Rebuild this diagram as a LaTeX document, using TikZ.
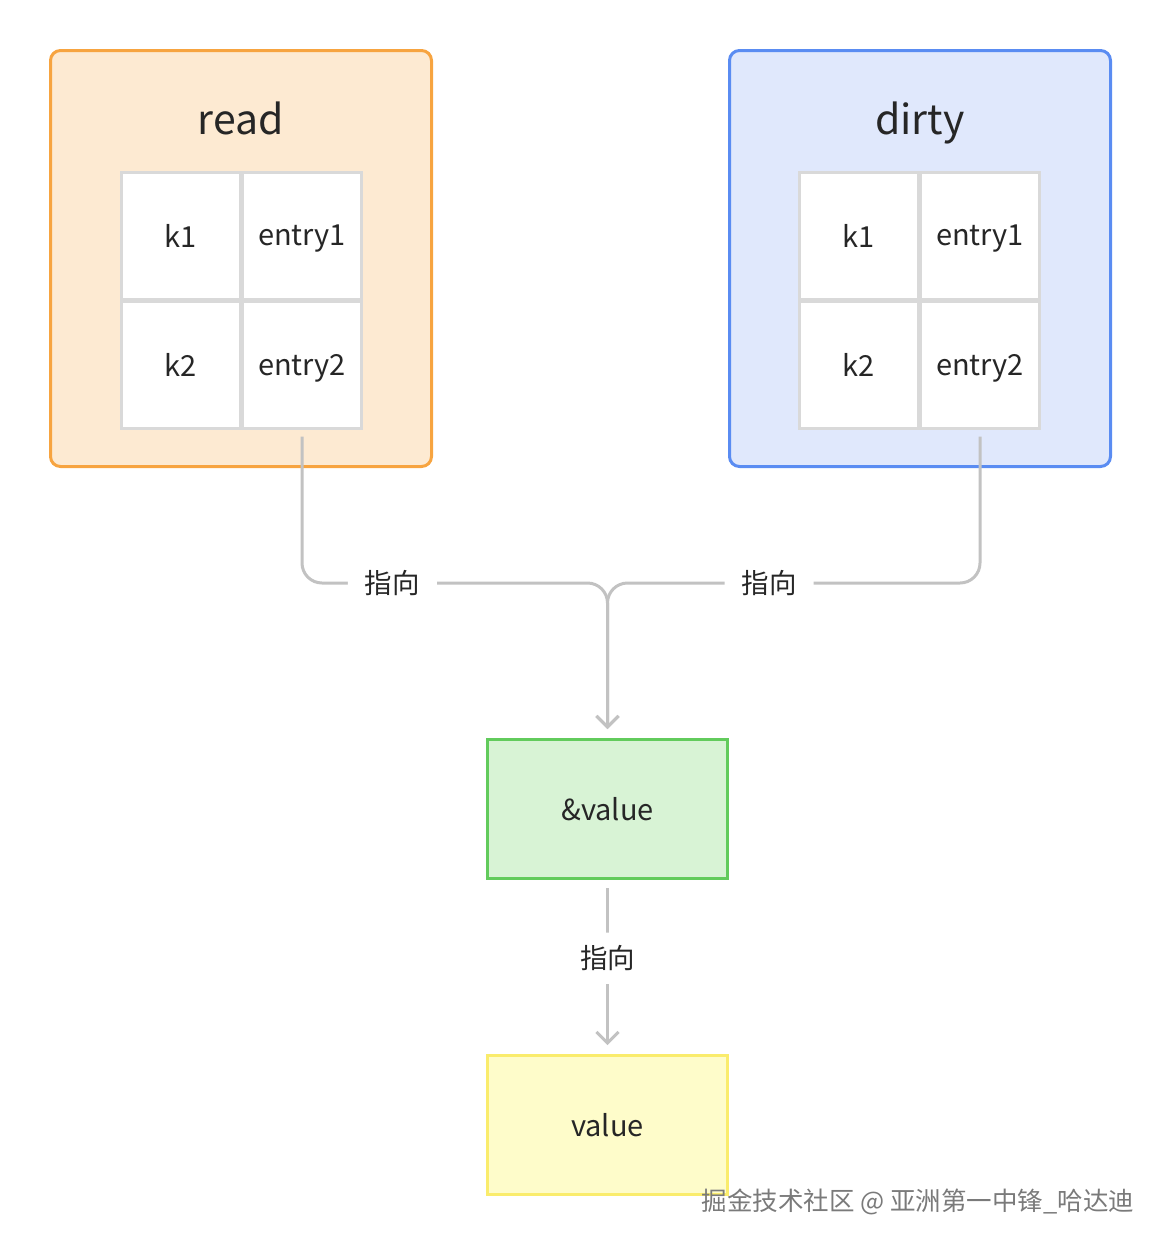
\documentclass[tikz,border=0pt]{standalone}
\usepackage{fontspec}
\setmainfont{Noto Sans CJK SC}
\usepackage{tikz}
\usetikzlibrary{arrows.meta,positioning}

\definecolor{txt}{HTML}{262626}
\definecolor{readline}{HTML}{F7A440}
\definecolor{readfill}{HTML}{FDEAD2}
\definecolor{dirtyline}{HTML}{5A8CF2}
\definecolor{dirtyfill}{HTML}{E0E8FC}
\definecolor{refline}{HTML}{62CB5C}
\definecolor{reffill}{HTML}{D8F3D5}
\definecolor{valline}{HTML}{FAEC6C}
\definecolor{valfill}{HTML}{FEFCCA}
\definecolor{cellgray}{HTML}{D9D9D9}
\definecolor{linegray}{HTML}{C2C2C2}
\definecolor{markgray}{HTML}{7A7A7A}

\begin{document}
\begin{tikzpicture}[x=1pt,y=-1pt,>={Straight Barb[length=11pt,width=22pt,line width=3pt]},
  line width=3pt,text=txt,
  box node/.style={rectangle,rounded corners=10pt,minimum width=381pt,minimum height=416pt},
  title node/.style={anchor=base,font=\fontsize{41}{48}\selectfont},
  cell node/.style={rectangle,draw=cellgray,fill=white,minimum width=119pt,minimum height=127pt,
    text depth=0pt,font=\fontsize{29}{34}\selectfont},
  item node/.style={rectangle,minimum width=240pt,minimum height=139pt,font=\fontsize{29}{34}\selectfont},
  lbl node/.style={fill=white,inner xsep=17pt,inner ysep=13pt,font=\fontsize{27.5}{32}\selectfont},
  conn/.style={->,draw=linegray,rounded corners=20pt,shorten <=9pt,shorten >=9pt}]
  \useasboundingbox (0,0) rectangle (1162,1248);

  % read map
  \node[box node,draw=readline,fill=readfill] (read) at (241,258.5) {};
  \node[title node] (readt) at (241,134) {read};
  \node[cell node] (r11) at (181,235.5) {k1};
  \node[cell node] (r12) [right=-1pt of r11] {entry1};
  \node[cell node] (r21) [below=-1pt of r11] {k2};
  \node[cell node] (r22) [right=-1pt of r21] {entry2};

  % dirty map
  \node[box node,draw=dirtyline,fill=dirtyfill] (dirty) at (920,258.5) {};
  \node[title node] (dirtyt) at (920,134) {dirty};
  \node[cell node] (d11) at (859,235.5) {k1};
  \node[cell node] (d12) [right=-1pt of d11] {entry1};
  \node[cell node] (d21) [below=-1pt of d11] {k2};
  \node[cell node] (d22) [right=-1pt of d21] {entry2};

  % pointer and value
  \node[item node,draw=refline,fill=reffill] (ref) at (607.5,809) {\&value};
  \node[item node,draw=valline,fill=valfill] (val) at (607.5,1125) {value};
  \coordinate (fork) at (607.5,583);

  \draw[conn,shorten <=7pt] (r22.south) |- node[lbl node,pos=0.648] {指向} (fork) -- (ref.north);
  \draw[conn,shorten <=7pt] (d22.south) |- node[lbl node,pos=0.783] {指向} (fork) -- (ref.north);
  \draw[conn,shorten <=8pt] (ref.south) -- node[lbl node,pos=0.45] {指向} (val.north);

  \node[text=markgray,font=\fontsize{25.5}{30}\selectfont] (mark) at (918,1202) {掘金技术社区 @ 亚洲第一中锋\_哈达迪};
\end{tikzpicture}
\end{document}
